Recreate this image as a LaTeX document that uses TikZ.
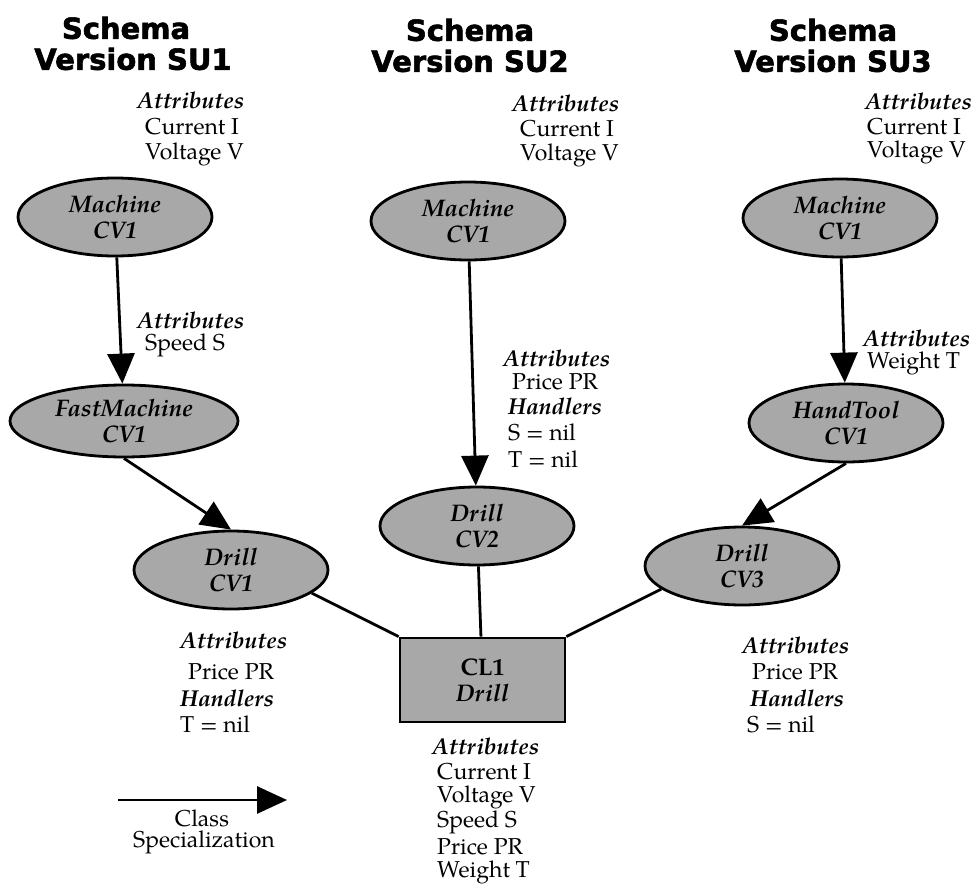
\documentclass[tikz,border=0pt]{standalone}
\usepackage{fontspec}
\setmainfont{texgyrepagella}[Extension=.otf, UprightFont=*-regular, ItalicFont=*-italic, BoldFont=*-bold, BoldItalicFont=*-bolditalic]
\newfontfamily\headfont{DejaVu Sans}[BoldFeatures={FakeBold=2}]
\usetikzlibrary{shapes.geometric, arrows.meta}
\definecolor{shade}{gray}{0.66}
\newcommand\txtsize{\fontsize{23}{26}\selectfont}
\newcommand\ellsize{\fontsize{24}{26}\selectfont}
\begin{document}
\begin{tikzpicture}[x=1pt, y=-1pt,
  cls/.style={ellipse, draw, line width=2.8pt, fill=shade, minimum width=194pt,
    minimum height=78pt, inner sep=0pt, align=center, font=\ellsize\bfseries\itshape},
  clsbox/.style={rectangle, draw, line width=2.8pt, fill=shade, minimum width=165pt,
    minimum height=84pt, inner sep=0pt, align=center, font=\ellsize\bfseries},
  head/.style={font=\headfont\bfseries\fontsize{29}{32}\selectfont, inner sep=0pt},
  lbl/.style={anchor=west, inner sep=0pt, font=\txtsize},
  att/.style={lbl, font=\txtsize\bfseries\itshape},
  spec/.style={line width=2.8pt, -{Triangle[length=30pt, width=27pt]}},
  link/.style={line width=2.8pt}]
\useasboundingbox (0,0) rectangle (975,891);

% schema version headings
\node[head] (h1a) at (126,28) {Schema};
\node[head] (h1b) at (133,59) {Version SU1};
\node[head] (h2a) at (470,30) {Schema};
\node[head] (h2b) at (470,61) {Version SU2};
\node[head] (h3a) at (833,30) {Schema};
\node[head] (h3b) at (833,61) {Version SU3};

% attributes of the root classes
\node[att] (ta1) at (137,100) {Attributes};
\node[lbl] (tc1) at (145,127) {Current I};
\node[lbl] (tv1) at (145,154) {Voltage V};
\node[att] (ta2) at (512,103) {Attributes};
\node[lbl] (tc2) at (520,129) {Current I};
\node[lbl] (tv2) at (520,155) {Voltage V};
\node[att, anchor=east] (ta3) at (972,101) {Attributes};
\node[lbl] (tc3) at (867,127) {Current I};
\node[lbl] (tv3) at (867,152) {Voltage V};

% class versions
\node[cls] (m1) at (115,217) {Machine\\CV1};
\node[cls, minimum width=228pt, minimum height=72pt] (f1) at (124,421) {FastMachine\\CV1};
\node[cls] (d1) at (231,570) {Drill\\CV1};
\node[cls] (m2) at (468,221) {Machine\\CV1};
\node[cls] (d2) at (477,526) {Drill\\CV2};
\node[cls] (m3) at (840,218) {Machine\\CV1};
\node[cls] (h3) at (846,423) {HandTool\\CV1};
\node[cls] (d3) at (742,566) {Drill\\CV3};
\node[clsbox] (cl) at (482.5,680) {CL1\\\textit{Drill}};

% specialization arrows
\draw[spec] (m1) -- (f1);
\draw[spec] (f1.south) -- (d1.north);
\draw[spec] (m2) -- (d2);
\draw[spec] (m3) -- (h3);
\draw[spec] (h3.south) -- (d3.north);

% versions bound to the class
\draw[link] (d1.-16) -- (cl.north west);
\draw[link] (d2) -- (cl);
\draw[link] (d3.196) -- (cl.north east);

% added attributes along the arrows
\node[att] (sa1) at (137,320) {Attributes};
\node[lbl] (ss1) at (145,345) {Speed S};
\node[att] (sa2) at (503,358) {Attributes};
\node[lbl] (sp2) at (512,382) {Price PR};
\node[att] (sh2) at (508,406) {Handlers};
\node[lbl] (sn2) at (508,432) {S = nil};
\node[lbl] (tn2) at (508,459) {T = nil};
\node[att] (sa3) at (863,338) {Attributes};
\node[lbl] (sw3) at (867,363) {Weight T};

% drill versions
\node[att] (da1) at (180,640) {Attributes};
\node[lbl] (dp1) at (188,672) {Price PR};
\node[att] (dh1) at (180,698) {Handlers};
\node[lbl] (dn1) at (180,724) {T = nil};
\node[att] (da3) at (742,645) {Attributes};
\node[lbl] (dp3) at (752,672) {Price PR};
\node[att] (dh3) at (750,698) {Handlers};
\node[lbl] (dn3) at (747,724) {S = nil};

% attributes of the class
\node[att] (ca) at (432,746) {Attributes};
\node[lbl] (cc) at (437,772) {Current I};
\node[lbl] (cv) at (437,797) {Voltage V};
\node[lbl] (cs) at (437,822) {Speed S};
\node[lbl] (cp) at (437,847) {Price PR};
\node[lbl] (cw) at (437,872) {Weight T};

% legend
\coordinate (lgA) at (118,800);
\coordinate (lgB) at (287,800);
\draw[spec] (lgA) -- (lgB);
\node[font=\txtsize, inner sep=0pt] (lgc) at (202,818) {Class};
\node[font=\txtsize, inner sep=0pt] (lgs) at (204,842) {Specialization};
\end{tikzpicture}
\end{document}
